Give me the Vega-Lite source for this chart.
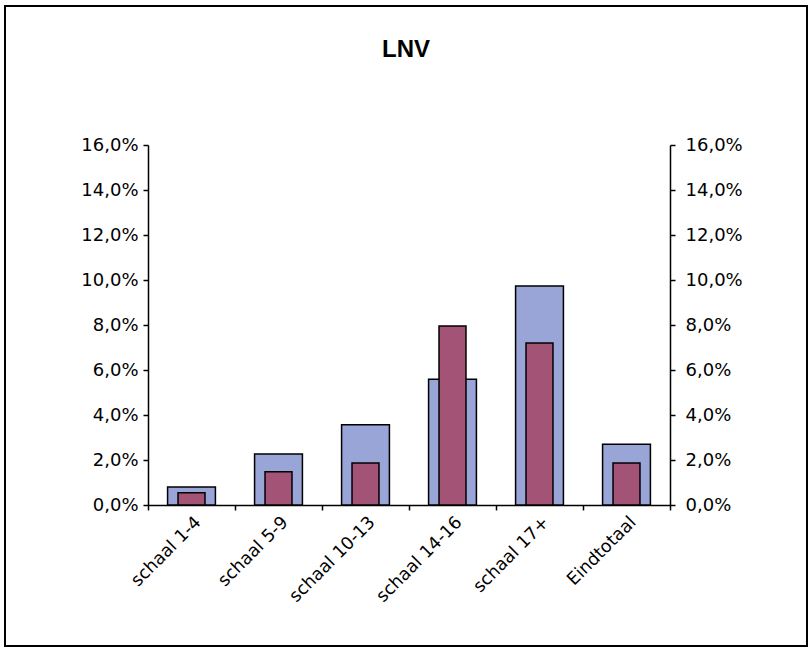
{
  "$schema": "https://vega.github.io/schema/vega-lite/v6.json",
  "width": 802,
  "height": 640,
  "autosize": {"type": "none"},
  "padding": {"left": 5, "top": 6, "right": 3, "bottom": 4},
  "background": "white",
  "title": {
    "text": "LNV",
    "font": "Liberation Sans",
    "fontSize": 24,
    "fontWeight": "bold",
    "color": "black",
    "anchor": "middle",
    "frame": "group",
    "baseline": "top",
    "offset": -56
  },
  "config": {
    "locale": {"number": {"decimal": ",", "thousands": ".", "grouping": [3], "currency": ["€", ""]}},
    "view": {"stroke": "black", "strokeWidth": 2}
  },
  "data": {
    "values": [
      {"cat": "schaal 1-4", "blue": 0.008, "red": 0.0055},
      {"cat": "schaal 5-9", "blue": 0.0227, "red": 0.0148},
      {"cat": "schaal 10-13", "blue": 0.0357, "red": 0.0187},
      {"cat": "schaal 14-16", "blue": 0.0559, "red": 0.0796},
      {"cat": "schaal 17+", "blue": 0.0973, "red": 0.072},
      {"cat": "Eindtotaal", "blue": 0.027, "red": 0.0187}
    ]
  },
  "layer": [
    {
      "mark": {"type": "bar", "width": {"band": 0.55}, "fill": "#99A5D6", "stroke": "black", "strokeWidth": 1.5},
      "encoding": {
        "x": {
          "field": "cat", "type": "nominal", "sort": null,
          "scale": {"range": [143, 665], "paddingInner": 0, "paddingOuter": 0},
          "axis": {
            "orient": "bottom", "offset": -141, "title": null, "tickBand": "extent",
            "labelAngle": -45, "labelFont": "DejaVu Sans", "labelFontSize": 17.5, "labelColor": "black",
            "labelPadding": 3, "tickSize": 5, "tickColor": "black", "tickWidth": 1.5,
            "domainColor": "black", "domainWidth": 1.5, "grid": false
          }
        },
        "y": {
          "field": "blue", "type": "quantitative",
          "scale": {"domain": [0, 0.16], "range": [499, 139], "nice": false},
          "axis": {
            "orient": "left", "offset": -143, "title": null, "format": ".1%",
            "values": [0, 0.02, 0.04, 0.06, 0.08, 0.1, 0.12, 0.14, 0.16],
            "labelFont": "DejaVu Sans", "labelFontSize": 18, "labelColor": "black", "labelPadding": 5,
            "tickSize": 5, "tickColor": "black", "tickWidth": 1.5,
            "domainColor": "black", "domainWidth": 1.5, "grid": false
          }
        }
      }
    },
    {
      "mark": {"type": "bar", "width": {"band": 0.31}, "fill": "#A25376", "stroke": "black", "strokeWidth": 1.5},
      "encoding": {
        "x": {"field": "cat", "type": "nominal", "sort": null},
        "y": {
          "field": "red", "type": "quantitative",
          "scale": {"domain": [0, 0.16], "range": [499, 139], "nice": false},
          "axis": {
            "orient": "right", "offset": -137, "title": null, "format": ".1%",
            "values": [0, 0.02, 0.04, 0.06, 0.08, 0.1, 0.12, 0.14, 0.16],
            "labelFont": "DejaVu Sans", "labelFontSize": 18, "labelColor": "black", "labelPadding": 10,
            "tickSize": 5, "tickColor": "black", "tickWidth": 1.5,
            "domainColor": "black", "domainWidth": 1.5, "grid": false
          }
        }
      }
    }
  ],
  "resolve": {"scale": {"y": "independent"}}
}
